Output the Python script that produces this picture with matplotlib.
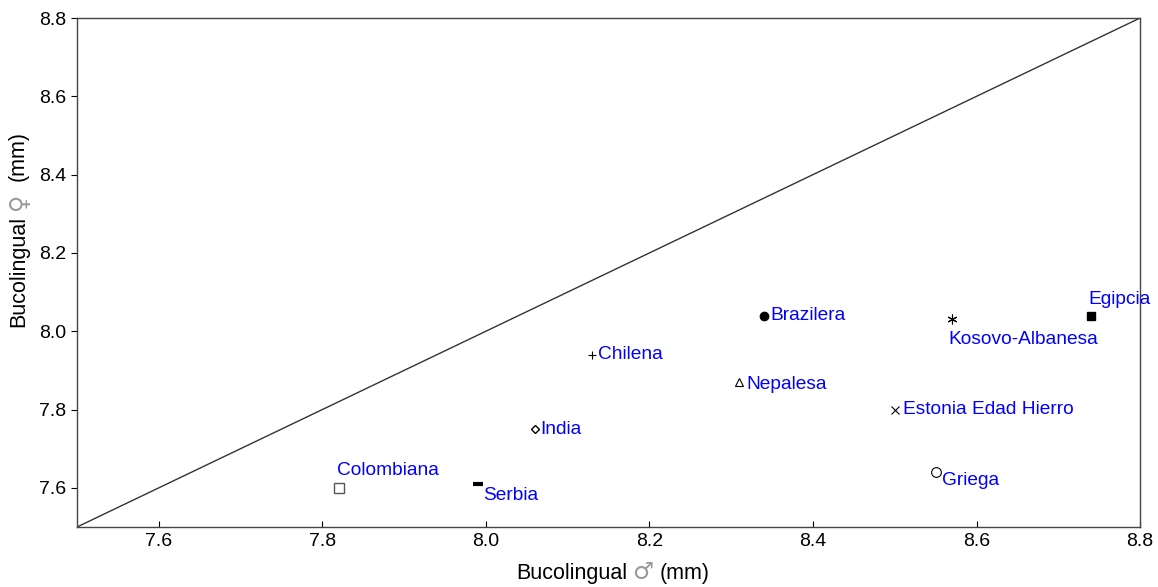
import matplotlib
matplotlib.use('Agg')
import matplotlib.pyplot as plt
from matplotlib.offsetbox import TextArea, HPacker, VPacker, AnnotationBbox

plt.rcParams['font.family'] = ['Liberation Sans', 'DejaVu Sans']

# population means of buccolingual diameter (mm)
groups = ['Colombiana', 'Serbia', 'India', 'Chilena', 'Nepalesa', 'Brazilera',
          'Kosovo-Albanesa', 'Egipcia', 'Estonia Edad Hierro', 'Griega']
male = [7.82, 7.99, 8.06, 8.13, 8.31, 8.34, 8.57, 8.74, 8.50, 8.55]
female = [7.60, 7.61, 7.75, 7.94, 7.87, 8.04, 8.03, 8.04, 7.80, 7.64]

ticks = [7.6, 7.8, 8.0, 8.2, 8.4, 8.6, 8.8]

# marker style per group: (marker, size, filled, edge width)
styles = [('s', 7, False, 1.0), ('_', 7, True, 3.0), ('D', 4, False, 1.0),
          ('+', 6, True, 0.8), ('^', 6, False, 0.8), ('o', 6, True, 1.0),
          ((6, 2, 0), 7, True, 0.8), ('s', 6, True, 1.0), ('x', 6, True, 0.8),
          ('o', 7, False, 0.8)]
# label offsets in pixels
offsets = [(-2, 17), (5, -12), (5, 0), (6, 0), (7, -2), (6, 0),
           (-4, -20), (-3, 16), (8, 0), (6, -8)]

fig = plt.figure(figsize=(11.58, 5.87), dpi=100)
ax = fig.add_axes([0.0665, 0.1022, 0.918, 0.8671])

ax.plot([7.5, 8.8], [7.5, 8.8], color='#333333', lw=1)

for g, x, y, st, off in zip(groups, male, female, styles, offsets):
    m, ms, filled, mew = st
    col = '#555555' if g == 'Colombiana' else 'black'
    ax.plot([x], [y], linestyle='none', marker=m, markersize=ms,
            markeredgecolor=col, markeredgewidth=mew,
            markerfacecolor=col if filled else 'white')
    ax.annotate(g, (x, y), xytext=off, textcoords='offset pixels',
                ha='left', va='center', color='blue', fontsize=13.8)

ax.set_xlim(7.5, 8.8)
ax.set_ylim(7.5, 8.8)
ax.set_xticks(ticks)
ax.set_yticks(ticks)
ax.set_xticklabels([f'{t:.1f}' for t in ticks])
ax.set_yticklabels([f'{t:.1f}' for t in ticks])
ax.tick_params(axis='x', direction='in', length=4, labelsize=14, pad=4)
ax.tick_params(axis='y', direction='out', length=4, labelsize=14)
for s in ax.spines.values():
    s.set_color('#444444')
    s.set_linewidth(1)

# axis titles with a larger grey sex symbol
txt = dict(fontsize=15.5, color='black')
sym = dict(fontsize=17, color='#999999', family=['DejaVu Sans'])
xbox = HPacker(children=[TextArea('Bucolingual', textprops=txt),
                         TextArea('\u2642', textprops=sym),
                         TextArea('(mm)', textprops=txt)],
               align='baseline', pad=0, sep=4)
fig.add_artist(AnnotationBbox(xbox, (0.529, 0.025), xycoords='figure fraction',
                              frameon=False, box_alignment=(0.5, 0.5)))

rtxt = dict(txt, rotation=90)
rsym = dict(sym, rotation=90)
ybox = VPacker(children=[TextArea('(mm)', textprops=rtxt),
                         TextArea('\u2640', textprops=rsym),
                         TextArea('Bucolingual', textprops=rtxt)],
               align='center', pad=0, sep=4)
fig.add_artist(AnnotationBbox(ybox, (0.016, 0.61), xycoords='figure fraction',
                              frameon=False, box_alignment=(0.5, 0.5)))

fig.savefig('out.png', dpi=100)
